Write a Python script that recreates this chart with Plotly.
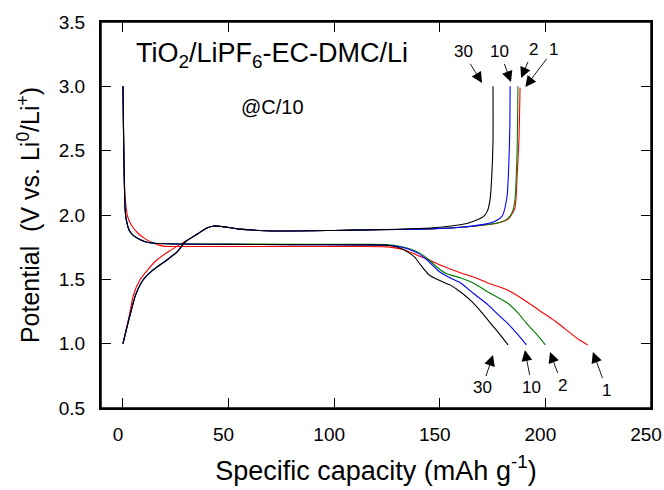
import plotly.graph_objects as go

# ---- data ----
cycles = ["1", "2", "10", "30"]
colors = ["#ff0000", "#008000", "#0000ff", "#000000"]

# discharge (lithiation) curves: capacity (mAh/g), potential (V)
dis_x = {
    "30": [0, 0.3, 0.6, 1, 1.5, 3, 5, 8, 11, 15, 25, 50, 80, 110, 125, 130, 133, 136, 138, 141, 145, 150, 155, 160, 165, 170, 175, 179, 182.3],
    "10": [0, 0.3, 0.6, 1, 1.5, 3, 5, 8, 11, 15, 25, 50, 80, 110, 125, 132, 136, 140, 144, 150, 155, 160, 166, 173, 178, 182, 187, 191],
    "2":  [0, 0.3, 0.6, 1, 1.5, 3, 5, 8, 11, 15, 25, 50, 80, 110, 125, 133, 137, 141, 145, 149, 153, 160, 166, 173, 182, 187, 191, 196, 200],
    "1":  [0, 0.3, 0.6, 1, 2, 4, 7, 10, 14, 19, 25, 50, 80, 110, 125, 133, 139, 145, 152, 160, 166, 173, 182, 190, 197, 205, 212, 216, 220],
}
dis_y = {
    "30": [3.0, 2.6, 2.3, 2.05, 1.97, 1.88, 1.84, 1.81, 1.79, 1.78, 1.775, 1.772, 1.77, 1.768, 1.765, 1.75, 1.73, 1.70, 1.674, 1.61, 1.534, 1.49, 1.455, 1.40, 1.33, 1.24, 1.14, 1.06, 0.99],
    "10": [3.0, 2.6, 2.3, 2.05, 1.97, 1.88, 1.84, 1.81, 1.79, 1.78, 1.775, 1.772, 1.77, 1.768, 1.765, 1.75, 1.73, 1.70, 1.65, 1.557, 1.51, 1.47, 1.39, 1.30, 1.22, 1.16, 1.07, 0.99],
    "2":  [3.0, 2.6, 2.3, 2.05, 1.97, 1.88, 1.84, 1.81, 1.79, 1.78, 1.775, 1.775, 1.773, 1.772, 1.77, 1.75, 1.73, 1.70, 1.65, 1.59, 1.545, 1.51, 1.47, 1.40, 1.316, 1.24, 1.16, 1.07, 0.99],
    "1":  [3.0, 2.6, 2.3, 2.15, 2.0, 1.92, 1.86, 1.82, 1.785, 1.758, 1.755, 1.755, 1.755, 1.755, 1.752, 1.73, 1.69, 1.65, 1.60, 1.55, 1.518, 1.47, 1.417, 1.34, 1.26, 1.17, 1.08, 1.03, 0.99],
}

# charge (delithiation) curves
chg_x = {
    "30": [0, 3, 6, 9.5, 14, 20.8, 26, 29.4, 35, 40, 43, 47, 55, 74, 100, 120, 140, 150, 158, 164, 168, 170.5, 172.5, 173.8, 174.6, 175.2, 175.2],
    "10": [0, 3, 6, 9.5, 14, 20.8, 26, 29.4, 35, 40, 43, 47, 55, 74, 100, 120, 140, 150, 160, 170, 176, 179.5, 181.8, 182.7, 183.2, 183.3],
    "2":  [0, 3, 6, 9.5, 14, 20.8, 26, 29.4, 35, 40, 43, 47, 55, 74, 100, 120, 140, 150, 160, 170, 178, 182, 184.5, 185.6, 186.6, 187],
    "1":  [0, 3, 5, 8, 12, 16, 22, 29, 35, 40, 43, 47, 55, 74, 100, 120, 140, 150, 160, 170, 178, 182.5, 185.5, 186.6, 187.5, 188],
}
chg_y = {
    "30": [1.0, 1.2, 1.38, 1.495, 1.57, 1.65, 1.72, 1.79, 1.85, 1.90, 1.915, 1.91, 1.89, 1.876, 1.88, 1.885, 1.895, 1.905, 1.92, 1.94, 1.965, 1.985, 2.03, 2.12, 2.3, 2.58, 3.0],
    "10": [1.0, 1.2, 1.38, 1.495, 1.57, 1.65, 1.72, 1.79, 1.85, 1.90, 1.915, 1.91, 1.89, 1.876, 1.88, 1.885, 1.89, 1.895, 1.905, 1.925, 1.95, 1.99, 2.14, 2.4, 2.71, 3.0],
    "2":  [1.0, 1.2, 1.38, 1.495, 1.57, 1.65, 1.72, 1.79, 1.85, 1.90, 1.915, 1.91, 1.89, 1.876, 1.88, 1.885, 1.89, 1.895, 1.905, 1.92, 1.94, 1.97, 2.03, 2.12, 2.5, 3.0],
    "1":  [1.0, 1.22, 1.38, 1.495, 1.58, 1.65, 1.72, 1.79, 1.85, 1.90, 1.915, 1.91, 1.89, 1.876, 1.88, 1.885, 1.89, 1.895, 1.905, 1.92, 1.94, 1.97, 2.05, 2.3, 2.6, 2.99],
}

# arrow annotations: label, arrow head (data), label offset from head (px)
top_labels = ["30", "10", "2", "1"]
top_head_x = [170, 183.7, 188.5, 190.5]
top_head_y = [3.026, 3.034, 3.065, 2.995]
top_label_dx = [-19, -11, 12, 28]
top_label_dy = [-31, -30, -28, -37]

bot_labels = ["30", "10", "2", "1"]
bot_head_x = [175.2, 190.3, 202.2, 222.5]
bot_head_y = [0.912, 0.95, 0.935, 0.935]
bot_label_dx = [-11, 7, 12, 14]
bot_label_dy = [33, 37, 33, 38]

x_ticks = [0, 50, 100, 150, 200, 250]
x_tick_text = ["0", "50", "100", "150", "200", "250"]
y_ticks = [0.5, 1.0, 1.5, 2.0, 2.5, 3.0, 3.5]

FONT = "Liberation Sans, Arial, sans-serif"

fig = go.Figure()
for c, col in zip(cycles, colors):
    fig.add_trace(go.Scatter(x=dis_x[c], y=dis_y[c], mode="lines",
                             line=dict(color=col, width=1.1, shape="spline", smoothing=0.6),
                             showlegend=False, hoverinfo="skip"))
    fig.add_trace(go.Scatter(x=chg_x[c], y=chg_y[c], mode="lines",
                             line=dict(color=col, width=1.1, shape="spline", smoothing=0.6),
                             showlegend=False, hoverinfo="skip"))

annotations = []
for labs, hxs, hys, dxs, dys in [(top_labels, top_head_x, top_head_y, top_label_dx, top_label_dy),
                                 (bot_labels, bot_head_x, bot_head_y, bot_label_dx, bot_label_dy)]:
    for lab, hx, hy, dx, dy in zip(labs, hxs, hys, dxs, dys):
        annotations.append(dict(x=hx, y=hy, xref="x", yref="y", ax=dx, ay=dy, text=lab,
                                showarrow=True, arrowhead=2, arrowsize=2.4, arrowwidth=0.9,
                                arrowcolor="black", standoff=0, startstandoff=1,
                                font=dict(family=FONT, size=17, color="black")))

annotations.append(dict(x=0.06, y=0.915, xref="paper", yref="paper", xanchor="left", yanchor="middle",
                        text="TiO<sub>2</sub>/LiPF<sub>6</sub>-EC-DMC/Li", showarrow=False,
                        font=dict(family=FONT, size=27, color="black")))
annotations.append(dict(x=0.311, y=0.78, xref="paper", yref="paper", xanchor="center", yanchor="middle",
                        text="@C/10", showarrow=False,
                        font=dict(family=FONT, size=20, color="black")))

fig.update_layout(
    width=664, height=490,
    margin=dict(l=101, r=13, t=22, b=82),
    paper_bgcolor="white", plot_bgcolor="white",
    font=dict(family=FONT, color="black"),
    annotations=annotations,
    shapes=[dict(type="rect", xref="paper", yref="paper", x0=0, y0=0, x1=1, y1=1,
                 line=dict(color="black", width=1.5), fillcolor="rgba(0,0,0,0)", layer="above")],
)
fig.update_xaxes(range=[-10.4, 250], tickvals=x_ticks, ticktext=x_tick_text, ticks="inside", ticklen=10, tickwidth=1.3,
                 tickcolor="black", showline=True, linecolor="black", linewidth=2, mirror="ticks",
                 showgrid=False, zeroline=False, tickfont=dict(size=19), ticklabelstandoff=8,
                 ticklabelshift=-5, ticklabeloverflow="allow", automargin=False,
                 title=dict(text="Specific capacity (mAh g<sup>-1</sup>)", font=dict(size=27), standoff=17))
fig.update_yaxes(range=[0.5, 3.5], tickvals=y_ticks, tickformat=".1f", ticks="inside", ticklen=10, tickwidth=1.3,
                 tickcolor="black", showline=True, linecolor="black", linewidth=2, mirror="ticks",
                 showgrid=False, zeroline=False, tickfont=dict(size=19), ticklabelstandoff=10,
                 ticklabeloverflow="allow", automargin=False,
                 title=dict(text="Potential  (V vs. Li<sup>0</sup>/Li<sup>+</sup>)", font=dict(size=25), standoff=12))

fig.write_html("out.html", config={"displayModeBar": False},
               post_script="document.body.style.margin='0';document.body.style.overflow='hidden';")
